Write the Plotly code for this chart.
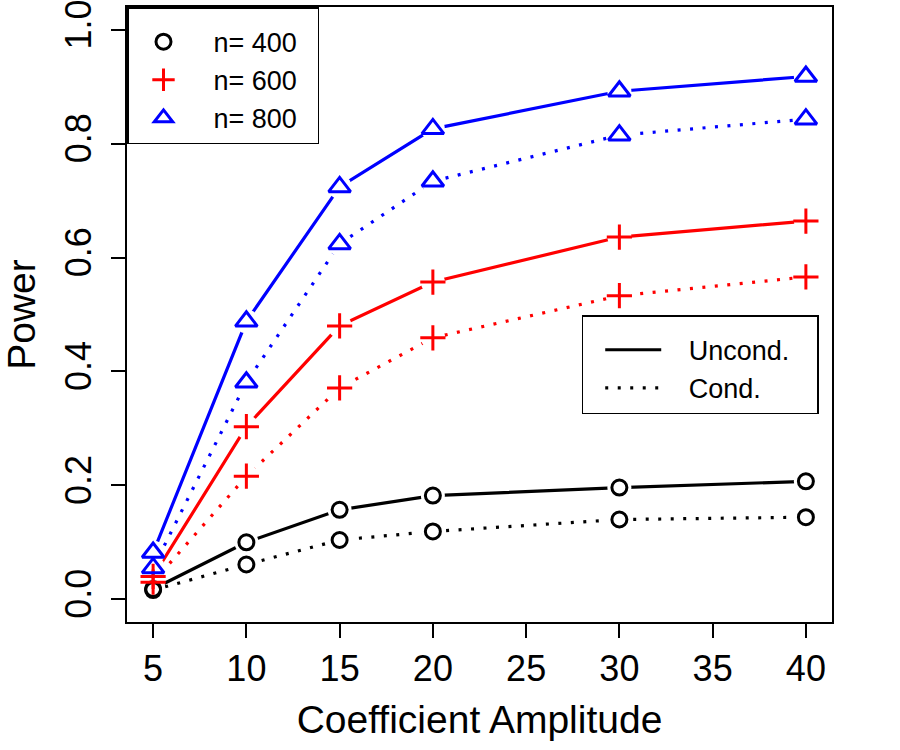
import plotly.graph_objects as go

amplitude = [5, 10, 15, 20, 30, 40]

# Power values
power_400_uncond = [0.018, 0.100, 0.157, 0.182, 0.196, 0.207]
power_400_cond   = [0.016, 0.061, 0.104, 0.119, 0.140, 0.144]
power_600_uncond = [0.040, 0.303, 0.480, 0.557, 0.636, 0.664]
power_600_cond   = [0.030, 0.216, 0.371, 0.459, 0.533, 0.566]
power_800_uncond = [0.082, 0.488, 0.724, 0.826, 0.892, 0.918]
power_800_cond   = [0.055, 0.381, 0.624, 0.734, 0.815, 0.843]

x_ticks = [5, 10, 15, 20, 25, 30, 35, 40]
y_ticks = [0.0, 0.2, 0.4, 0.6, 0.8, 1.0]

series = [
    ("n= 400", "black", "circle-open", 15, power_400_uncond, power_400_cond),
    ("n= 600", "red", "cross-thin-open", 18, power_600_uncond, power_600_cond),
    ("n= 800", "blue", "triangle-up-open", 19, power_800_uncond, power_800_cond),
]

FONT = "Liberation Sans, Arial, Helvetica, sans-serif"
DOT = "3px,9.5px"
NB = "\u00a0"

fig = go.Figure()

# lines
for name, col, sym, sz, unc, con in series:
    fig.add_trace(go.Scatter(x=amplitude, y=unc, mode="lines",
                             line=dict(color=col, width=3.2), showlegend=False,
                             hoverinfo="skip"))
    fig.add_trace(go.Scatter(x=amplitude, y=con, mode="lines",
                             line=dict(color=col, width=3.2, dash=DOT), showlegend=False,
                             hoverinfo="skip"))
# knockouts (gaps around points, like R type="b")
for name, col, sym, sz, unc, con in series:
    for vals in (unc, con):
        fig.add_trace(go.Scatter(x=amplitude, y=vals, mode="markers",
                                 marker=dict(symbol="circle", size=24, color="white",
                                             line=dict(width=0)),
                                 showlegend=False, hoverinfo="skip"))
# markers
for name, col, sym, sz, unc, con in series:
    for vals in (unc, con):
        fig.add_trace(go.Scatter(x=amplitude, y=vals, mode="markers",
                                 marker=dict(symbol=sym, size=sz, color=col,
                                             line=dict(color=col, width=3)),
                                 showlegend=False))

# legend 1 (sample sizes)
for i, (name, col, sym, sz, unc, con) in enumerate(series):
    fig.add_trace(go.Scatter(x=[None], y=[None], mode="markers",
                             name=NB * 2 + name + NB * 2,
                             marker=dict(symbol=sym, size=sz, color=col,
                                         line=dict(color=col, width=3)),
                             legend="legend", legendgroup="g%d" % i, showlegend=True))
# legend 2 (line types)
fig.add_trace(go.Scatter(x=[None], y=[None], mode="lines", name=NB * 3 + "Uncond." + NB * 3,
                         line=dict(color="black", width=3.2), legend="legend2",
                         legendgroup="u", showlegend=True))
fig.add_trace(go.Scatter(x=[None], y=[None], mode="lines", name=NB * 3 + "Cond.",
                         line=dict(color="black", width=3.2, dash=DOT), legend="legend2",
                         legendgroup="c", showlegend=True))

axis_common = dict(showline=True, mirror=True, linecolor="black", linewidth=1.5,
                   ticks="outside", ticklen=14, tickwidth=1.5, tickcolor="black",
                   showgrid=False, zeroline=False, automargin=False,
                   ticklabeloverflow="allow",
                   tickfont=dict(family=FONT, size=36, color="black"))

legend_common = dict(xanchor="left", yanchor="top", bgcolor="white",
                     bordercolor="black", borderwidth=1.5, tracegroupgap=0,
                     font=dict(family=FONT, size=27, color="black"),
                     title=dict(text=NB, font=dict(size=7)))

fig.update_layout(
    width=900, height=750,
    margin=dict(l=127, r=68, t=7, b=128),
    plot_bgcolor="white", paper_bgcolor="white",
    font=dict(family=FONT, color="black"),
    xaxis=dict(range=[3.6, 41.4], tickvals=x_ticks, ticktext=[str(v) for v in x_ticks],
               title=dict(text="Coefficient Amplitude", font=dict(family=FONT, size=39, color="black"),
                          standoff=18),
               **axis_common),
    yaxis=dict(range=[-0.04, 1.04], tickvals=y_ticks, tickformat=".1f", tickangle=-90,
               ticklabelstandoff=6,
               title=dict(text="Power", font=dict(family=FONT, size=39, color="black"),
                          standoff=25),
               **axis_common),
    legend=dict(x=0, y=1, itemwidth=60, **legend_common),
    legend2=dict(x=0.645, y=0.499, itemwidth=56, indentation=17, **legend_common),
)

fig.write_html("out.html")
